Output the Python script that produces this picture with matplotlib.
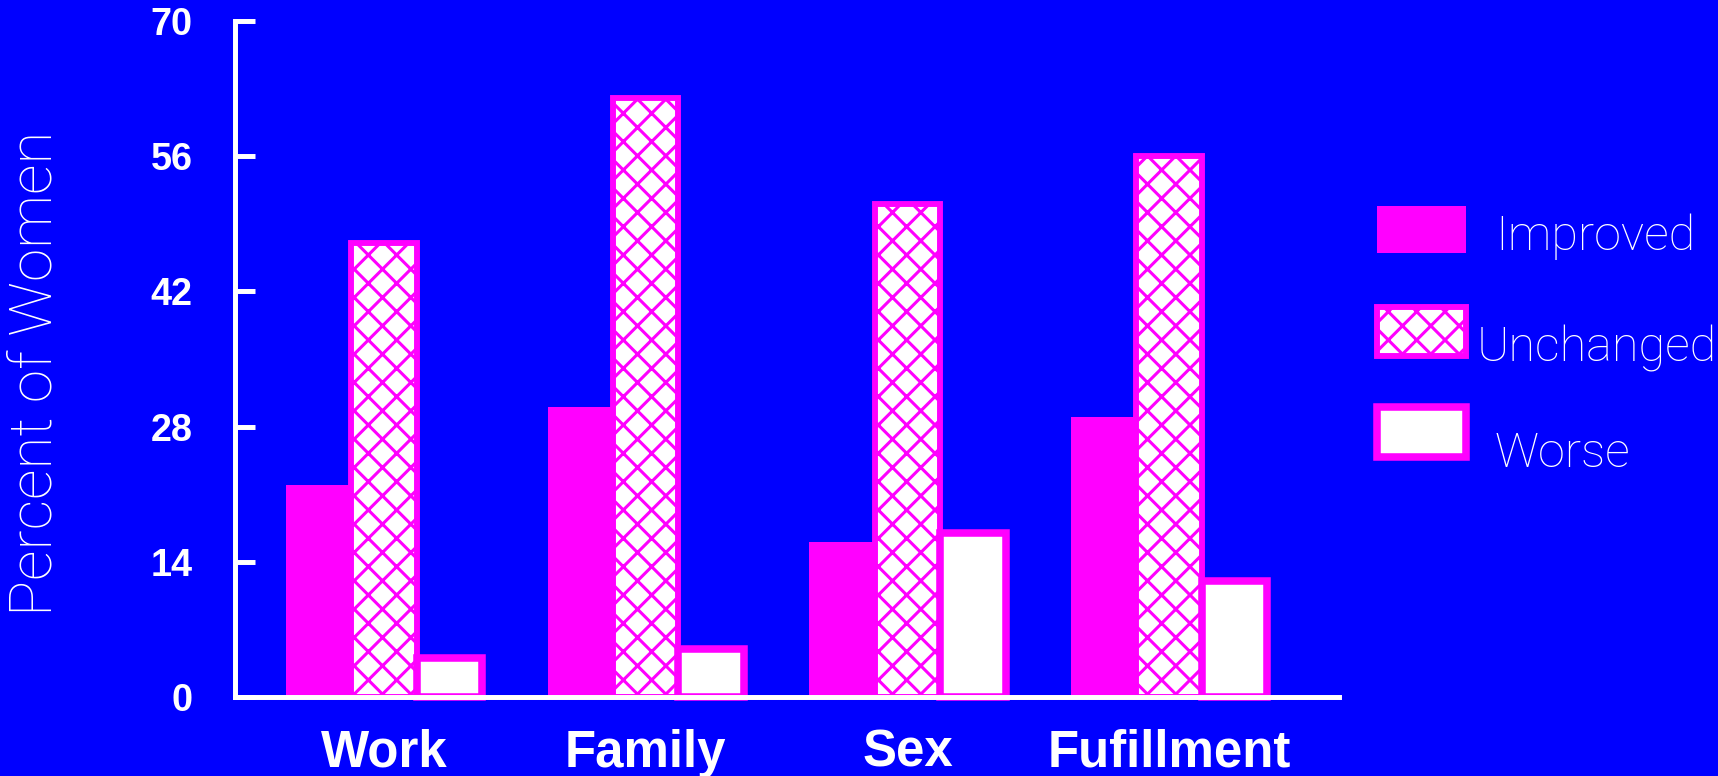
import numpy as np
import matplotlib
matplotlib.use("Agg")
import matplotlib.pyplot as plt
from matplotlib.patches import Rectangle

# chart data
categories = ["Work", "Family", "Sex", "Fufillment"]
series_names = ["Improved", "Unchanged", "Worse"]
improved = [22, 30, 16, 29]
unchanged = [47, 62, 51, 56]
worse = [4, 5, 17, 12]
y_ticks = [0, 14, 28, 42, 56, 70]

BLUE = "#0000FF"
MAGENTA = "#FF00FF"
WHITE = "#FFFFFF"

DPI = 170
W, H = 1718, 776

plt.rcParams['hatch.color'] = MAGENTA
plt.rcParams['hatch.linewidth'] = 1.3

BOLD = dict(family=["Liberation Sans", "DejaVu Sans"], weight="bold", color=WHITE)
LIGHT = dict(family=["Roboto", "DejaVu Sans"], weight="light", color=WHITE)

styles = [
    dict(facecolor=MAGENTA, edgecolor=MAGENTA, linewidth=0),
    dict(facecolor=WHITE, edgecolor=MAGENTA, linewidth=2.5, hatch="xx"),
    dict(facecolor=WHITE, edgecolor=MAGENTA, linewidth=3.2),
]

fig = plt.figure(figsize=(W / DPI, H / DPI), dpi=DPI, facecolor=BLUE)
ax = fig.add_axes([235 / W, 1 - 697 / H, (1339 - 235) / W, (697 - 21) / H])
ax.set_facecolor(BLUE)

x = np.arange(len(categories))
width = 0.25
for i, vals in enumerate([improved, unchanged, worse]):
    bars = ax.bar(x + (i - 1) * width, vals, width, zorder=1, **styles[i])
    for b in bars:
        b.set_clip_on(False)

ax.set_xlim(-0.569, 3.649)
ax.set_ylim(0, 70)
ax.set_yticks(y_ticks)
ax.set_xticks(x)
ax.set_xticklabels(categories, fontsize=21.6, **BOLD)
ax.set_yticklabels([str(t) for t in y_ticks], fontsize=16, **BOLD)

for s in ["top", "right"]:
    ax.spines[s].set_visible(False)
for s in ["left", "bottom"]:
    ax.spines[s].set_color(WHITE)
    ax.spines[s].set_linewidth(2.1)
    ax.spines[s].set_zorder(3)
ax.tick_params(axis="y", direction="in", length=8.5, width=2.1, color=WHITE, pad=18)
ax.tick_params(axis="x", length=0, pad=13.5)

fig.text(35 / W, 1 - 373 / H, "Percent of Women", rotation=90,
         ha="center", va="center", fontsize=25.5, **LIGHT)

# hand-placed legend boxes (pixel positions from the original)
legend_rows = [
    (1377, 206, 1466, 253, 1495, 250),
    (1377, 307, 1466, 356, 1477, 362),
    (1377, 407, 1466, 457, 1495, 467),
]
for (x0, y0, x1, y1, tx, ty), name, st in zip(legend_rows, series_names, styles):
    r = Rectangle((x0 / W, 1 - y1 / H), (x1 - x0) / W, (y1 - y0) / H,
                  transform=fig.transFigure, **st)
    fig.add_artist(r)
    fig.text(tx / W, 1 - ty / H, name, ha="left", va="baseline",
             fontsize=20.6, **LIGHT)

fig.savefig("out.png", dpi=DPI, facecolor=BLUE)
